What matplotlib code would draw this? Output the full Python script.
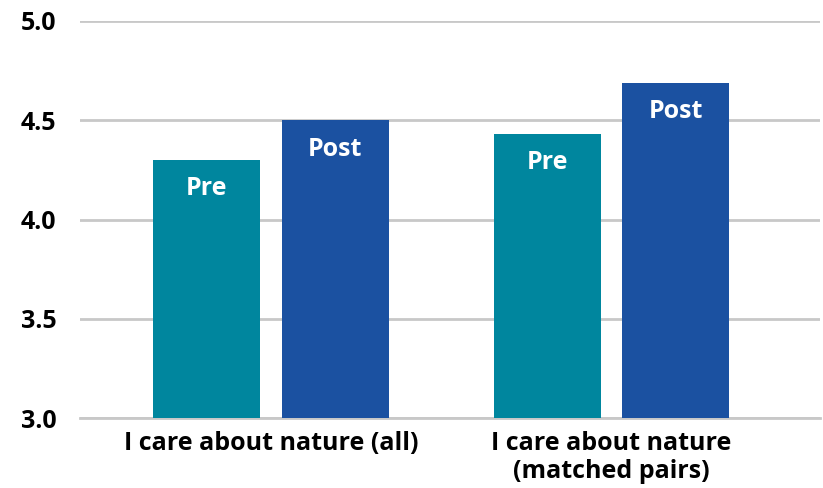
import matplotlib.pyplot as plt
import numpy as np

plt.rcParams['font.family'] = ['Open Sans', 'DejaVu Sans']
plt.rcParams['font.weight'] = 'bold'

categories = ["I care about nature (all)", "I care about nature\n(matched pairs)"]
series_names = ["Pre", "Post"]
pre_values = [4.30, 4.43]
post_values = [4.50, 4.69]
yticks = [3.0, 3.5, 4.0, 4.5, 5.0]

colors = {"Pre": "#00869e", "Post": "#1b51a1"}

fig = plt.figure(figsize=(8.23, 4.88), dpi=100)
ax = fig.add_axes([80 / 823, 1 - 418 / 488, 740 / 823, 397 / 488])

x = np.arange(len(categories))
width = 0.314
offset = 0.189

for vals, name, sign in [(pre_values, "Pre", -1), (post_values, "Post", 1)]:
    bars = ax.bar(x + sign * offset, vals, width, color=colors[name], zorder=3)
    for b, v in zip(bars, vals):
        ax.text(b.get_x() + b.get_width() / 2, v - 0.145, name, ha='center', va='center',
                color='white', fontsize=18, fontweight='bold', zorder=4)

ax.set_ylim(3.0, 5.0)
ax.set_xlim(-0.561, 1.612)
ax.set_yticks(yticks)
ax.set_yticklabels([f"{t:.1f}" for t in yticks], fontsize=18, fontweight='bold')
ax.set_xticks(x)
ax.set_xticklabels(categories, fontsize=18, fontweight='bold', linespacing=1.2)
ax.tick_params(axis='y', length=0, pad=17)
ax.tick_params(axis='x', length=0, pad=9)
ax.yaxis.grid(True, color='#c8c8c8', linewidth=2, zorder=0)
for s in ['top', 'right', 'left']:
    ax.spines[s].set_visible(False)
ax.spines['bottom'].set_color('#c8c8c8')
ax.spines['bottom'].set_linewidth(2)

fig.savefig('out.png', dpi=100)
